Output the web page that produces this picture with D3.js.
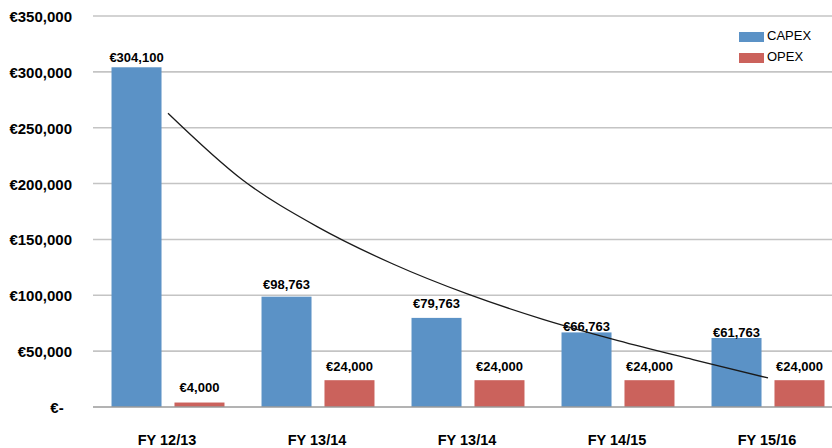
<!DOCTYPE html>
<html>
<head>
<meta charset="utf-8">
<script src="https://cdn.jsdelivr.net/npm/d3@7"></script>
<style>
  html, body { margin: 0; padding: 0; background: #fff; }
  svg { display: block; }
  text { font-family: "Liberation Sans", Arial, sans-serif; fill: #000; }
</style>
</head>
<body>
<svg id="chart" width="832" height="448"></svg>
<script>
// ---- data ----
const categories = ["FY 12/13", "FY 13/14", "FY 13/14", "FY 14/15", "FY 15/16"];
const seriesNames = ["CAPEX", "OPEX"];
const capex = [304100, 98763, 79763, 66763, 61763];
const opex = [4000, 24000, 24000, 24000, 24000];
const yTicks = [0, 50000, 100000, 150000, 200000, 250000, 300000, 350000];
// trendline: position in category units (1 = first category) and value
const trendPos = [1, 1.5, 2, 2.5, 3, 3.5, 4, 4.5, 5];
const trendVal = [263000, 203000, 161000, 128000, 101000, 78500, 59500, 42500, 26000];

// ---- layout / style ----
const colors = { CAPEX: "#5b92c6", OPEX: "#cb625c" };
const plotLeft = 93, plotRight = 843, plotTop = 16, plotBottom = 407;
const labelGap = { CAPEX: [5, 8, 9.5, 1, 1], OPEX: [10.5, 9.5, 9.5, 9.5, 9.5] };

const svg = d3.select("#chart");

const y = d3.scaleLinear().domain([0, 350000]).range([plotBottom, plotTop]);
const x0 = d3.scaleBand().domain(d3.range(categories.length)).range([plotLeft, plotRight]).padding(0);
const x1 = d3.scaleBand().domain(seriesNames).range([0, x0.bandwidth()])
  .paddingInner(0.206).paddingOuter(0.294);
const xt = d3.scaleLinear().domain([0.5, categories.length + 0.5]).range([plotLeft, plotRight]);

// gridlines
svg.append("g").selectAll("line").data(yTicks.filter(d => d > 0)).join("line")
  .attr("x1", plotLeft).attr("x2", 832)
  .attr("y1", d => y(d)).attr("y2", d => y(d))
  .attr("stroke", "#c4c4c4").attr("stroke-width", 1.6);

// y-axis labels
const fmt = d => d === 0 ? "€-\u00a0\u00a0" : "€" + d3.format(",")(d);
svg.append("g").selectAll("text").data(yTicks).join("text")
  .attr("x", 72).attr("y", d => y(d) + 2)
  .attr("text-anchor", "end").attr("dominant-baseline", "middle")
  .style("font-size", "15px").style("font-weight", "bold")
  .text(fmt);

// bars
const rows = categories.map((c, i) => ({ i, CAPEX: capex[i], OPEX: opex[i] }));
const groups = svg.append("g").selectAll("g").data(rows).join("g")
  .attr("transform", d => `translate(${x0(d.i)},0)`);

groups.selectAll("rect").data(d => seriesNames.map(s => ({ s, v: d[s], i: d.i }))).join("rect")
  .attr("x", d => x1(d.s)).attr("width", x1.bandwidth())
  .attr("y", d => y(d.v)).attr("height", d => y(0) - y(d.v))
  .attr("fill", d => colors[d.s]);

// value labels
groups.selectAll("text").data(d => seriesNames.map(s => ({ s, v: d[s], i: d.i }))).join("text")
  .attr("x", d => x1(d.s) + x1.bandwidth() / 2)
  .attr("y", d => y(d.v) - labelGap[d.s][d.i])
  .attr("text-anchor", "middle")
  .style("font-size", "13px").style("font-weight", "bold")
  .text(d => "€" + d3.format(",")(d.v));

// zero axis line
svg.append("line").attr("x1", plotLeft).attr("x2", 832)
  .attr("y1", y(0)).attr("y2", y(0))
  .attr("stroke", "#9a9a9a").attr("stroke-width", 1.5);

// x labels
svg.append("g").selectAll("text").data(categories).join("text")
  .attr("x", (d, i) => x0(i) + x0.bandwidth() / 2 - 1)
  .attr("y", 445)
  .attr("text-anchor", "middle")
  .style("font-size", "14.5px").style("font-weight", "bold")
  .text(d => d);

// trendline
const line = d3.line().x(d => xt(d[0])).y(d => y(d[1])).curve(d3.curveMonotoneX);
svg.append("path").datum(trendPos.map((p, i) => [p, trendVal[i]]))
  .attr("d", line).attr("fill", "none").attr("stroke", "#1a1a1a").attr("stroke-width", 1.3);

// legend
const legend = svg.append("g").attr("transform", "translate(739,32)");
seriesNames.forEach((s, i) => {
  const g = legend.append("g").attr("transform", `translate(0,${i * 21})`);
  g.append("rect").attr("width", 25).attr("height", 10).attr("fill", colors[s]);
  g.append("text").attr("x", 28).attr("y", 5).attr("dominant-baseline", "middle")
    .style("font-size", "13px").text(s);
});
</script>
</body>
</html>
